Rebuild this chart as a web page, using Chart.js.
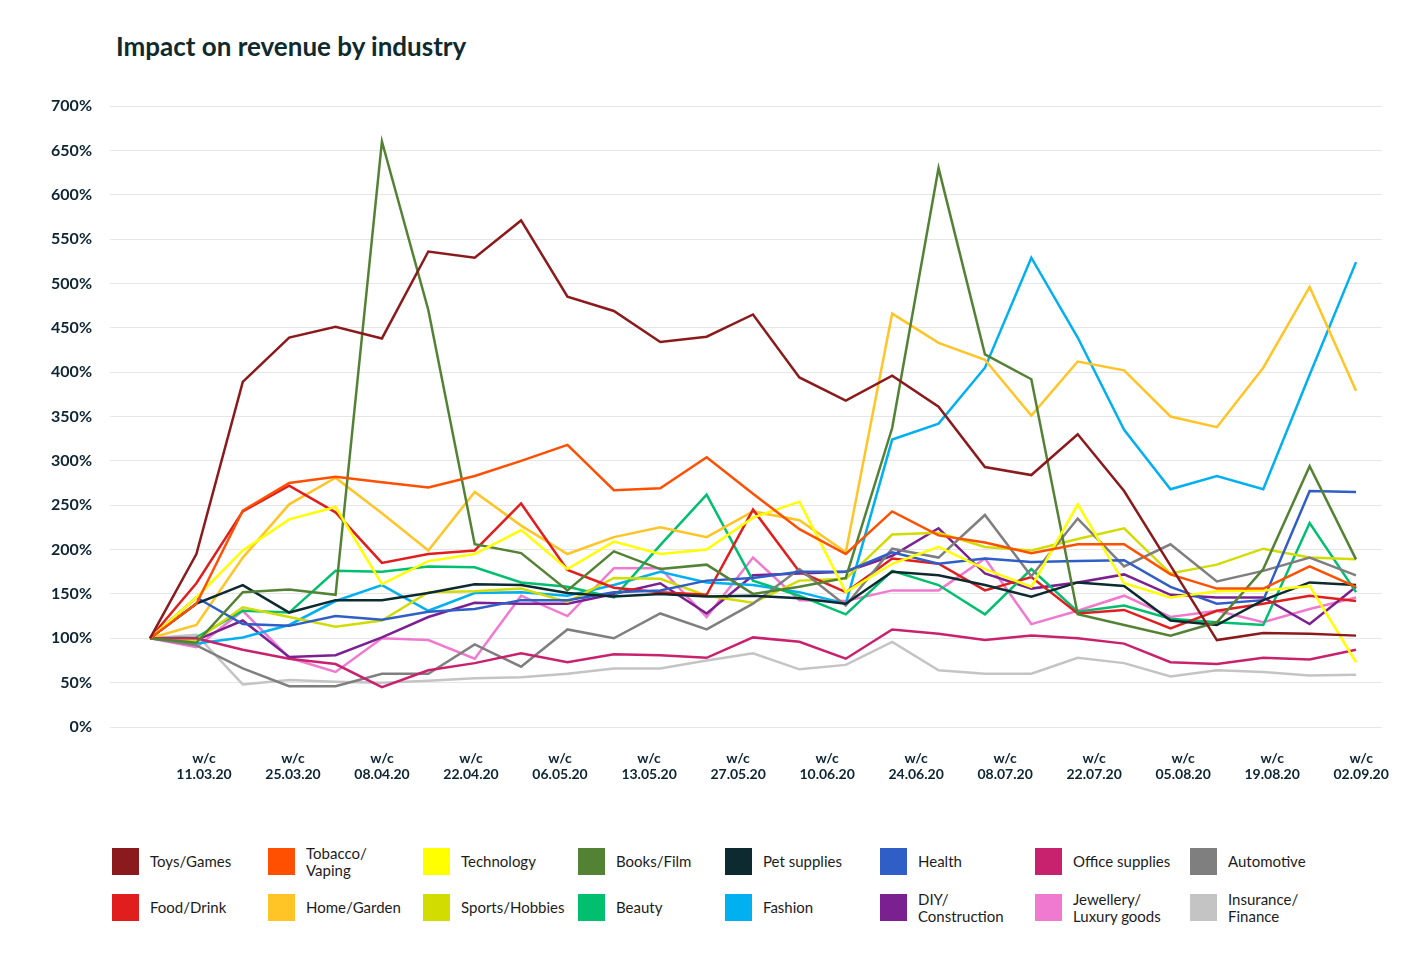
<!DOCTYPE html>
<html lang="en">
<head>
<meta charset="UTF-8">
<title>Impact on revenue by industry</title>
<script src="https://cdn.jsdelivr.net/npm/chart.js@4.4.0/dist/chart.umd.min.js"></script>
<style>
    body {
        margin: 0;
        background: #ffffff;
        width: 1420px;
        height: 956px;
        position: relative;
        overflow: hidden;
        font-family: Lato, "Open Sans", sans-serif;
    }
    h1 {
        position: absolute;
        left: 116px;
        top: 33px;
        margin: 0;
        font-size: 26px;
        line-height: 26px;
        font-weight: 700;
        color: #0f2a2e;
    }
    #caixa-grafico {
        position: absolute;
        left: 0;
        top: 0;
        width: 1420px;
        height: 800px;
    }
    #legenda {
        position: absolute;
        left: 112px;
        top: 848px;
        display: grid;
        grid-template-columns: 156px 155px 155px 147px 155px 155px 155px 200px;
        grid-auto-rows: 46px;
    }
    .item {
        display: flex;
        align-items: center;
        height: 27px;
    }
    .quadrado {
        width: 27px;
        height: 27px;
        margin-right: 11px;
        flex: none;
    }
    .texto {
        font-size: 15px;
        line-height: 17px;
        color: #1c1c1c;
        white-space: pre-line;
    }
</style>
</head>
<body>

<h1>Impact on revenue by industry</h1>

<div id="caixa-grafico">
    <canvas id="grafico-receita"></canvas>
</div>

<div id="legenda"></div>

<script>
// Semanas mostradas no eixo x (w/c = week commencing)
var semanas = ['11.03.20', '25.03.20', '08.04.20', '22.04.20', '06.05.20', '13.05.20', '27.05.20',
    '10.06.20', '24.06.20', '08.07.20', '22.07.20', '05.08.20', '19.08.20', '02.09.20'];

// Valores em % por semana (27 semanas)
var toysGames = [100, 195, 389, 439, 451, 438, 536, 529, 571, 485, 469, 434, 440, 465, 394, 368, 396, 361, 293, 284, 330, 266, 182, 98, 106, 105, 103];
var tobaccoVaping = [100, 139, 244, 275, 282, 276, 270, 283, 300, 318, 267, 269, 304, 263, 223, 195, 243, 216, 208, 196, 206, 206, 172, 156, 156, 181, 158];
var technology = [100, 146, 199, 234, 248, 161, 187, 195, 222, 178, 209, 195, 200, 236, 254, 152, 184, 203, 178, 158, 251, 162, 146, 153, 154, 159, 73];
var booksFilm = [100, 95, 152, 155, 149, 660, 470, 206, 196, 154, 198, 178, 183, 150, 158, 168, 337, 630, 420, 392, 127, 115, 103, 118, 178, 294, 189];
var petSupplies = [100, 139, 160, 129, 143, 143, 151, 161, 160, 151, 147, 150, 147, 148, 145, 139, 175, 171, 160, 147, 163, 159, 120, 115, 143, 163, 160];
var health = [100, 146, 116, 114, 125, 121, 130, 133, 143, 143, 152, 154, 165, 168, 175, 175, 197, 184, 190, 186, 187, 188, 158, 139, 143, 266, 265];
var officeSupplies = [100, 100, 87, 77, 71, 45, 64, 72, 83, 73, 82, 81, 78, 101, 96, 77, 110, 105, 98, 103, 100, 94, 73, 71, 78, 76, 87];
var automotive = [100, 92, 66, 46, 46, 60, 60, 93, 68, 110, 100, 128, 110, 139, 178, 137, 201, 191, 239, 170, 235, 181, 206, 164, 176, 191, 171];
var foodDrink = [100, 162, 243, 272, 242, 185, 195, 199, 252, 177, 157, 152, 149, 245, 175, 152, 190, 184, 154, 169, 128, 132, 111, 131, 139, 148, 142];
var homeGarden = [100, 115, 191, 251, 281, 241, 199, 265, 227, 195, 214, 225, 214, 243, 233, 197, 466, 433, 414, 351, 412, 402, 350, 338, 405, 496, 379];
var sportsHobbies = [100, 98, 135, 124, 113, 120, 152, 153, 156, 141, 168, 167, 148, 140, 165, 167, 217, 219, 203, 199, 212, 224, 173, 183, 201, 191, 189];
var beauty = [100, 101, 131, 129, 176, 175, 181, 180, 163, 158, 146, 205, 262, 165, 148, 127, 176, 160, 127, 178, 130, 137, 122, 118, 115, 230, 152];
var fashion = [100, 94, 101, 115, 142, 160, 131, 151, 152, 148, 160, 175, 163, 160, 152, 139, 324, 342, 405, 529, 439, 335, 268, 283, 268, 397, 524];
var diyConstruction = [100, 98, 120, 79, 81, 101, 124, 140, 139, 139, 150, 162, 128, 171, 173, 175, 193, 224, 173, 156, 163, 172, 149, 146, 146, 116, 158];
var jewelleryLuxury = [100, 90, 131, 78, 62, 100, 98, 77, 148, 125, 179, 179, 124, 191, 143, 142, 154, 154, 190, 116, 131, 148, 124, 131, 118, 133, 146];
var insuranceFinance = [100, 104, 48, 53, 51, 50, 52, 55, 56, 60, 66, 66, 75, 83, 65, 70, 96, 64, 60, 60, 78, 72, 57, 64, 62, 58, 59];

// Setores na ordem da legenda (linha 1, depois linha 2)
var setores = ['Toys/Games', 'Tobacco/\nVaping', 'Technology', 'Books/Film', 'Pet supplies', 'Health', 'Office supplies', 'Automotive',
    'Food/Drink', 'Home/Garden', 'Sports/Hobbies', 'Beauty', 'Fashion', 'DIY/\nConstruction', 'Jewellery/\nLuxury goods', 'Insurance/\nFinance'];
var series = [toysGames, tobaccoVaping, technology, booksFilm, petSupplies, health, officeSupplies, automotive,
    foodDrink, homeGarden, sportsHobbies, beauty, fashion, diyConstruction, jewelleryLuxury, insuranceFinance];
var cores = ['#8b1a1d', '#ff4f00', '#ffff00', '#548235', '#0c2a30', '#2e5ec6', '#c8216e', '#7f7f7f',
    '#e01e1e', '#ffc425', '#d2dc00', '#00bf6f', '#00b0f0', '#7b2090', '#f07ad0', '#c4c4c4'];

var graficoReceita = null;

// Monta a legenda em HTML (quadrado colorido + texto)
function criarLegenda() {
    var legenda = document.getElementById('legenda');
    setores.forEach(function (nome, i) {
        var item = document.createElement('div');
        item.className = 'item';
        item.innerHTML = '<span class="quadrado" style="background:' + cores[i] + '"></span>' +
            '<span class="texto">' + nome + '</span>';
        legenda.appendChild(item);
    });
}

function criarGraficoReceita() {
    var ctx = document.getElementById('grafico-receita').getContext('2d');

    var datasets = series.map(function (valores, i) {
        return {
            label: setores[i].replace('\n', ''),
            data: valores.map(function (v, semana) { return { x: semana, y: v }; }),
            borderColor: cores[i],
            backgroundColor: cores[i],
            borderWidth: 2.5,
            pointRadius: 0,
            tension: 0,
            fill: false
        };
    });

    graficoReceita = new Chart(ctx, {
        type: 'line',
        data: { datasets: datasets },
        options: {
            responsive: true,
            maintainAspectRatio: false,
            animation: false,
            layout: {
                padding: { top: 106, right: 38, left: 0, bottom: 0 }
            },
            plugins: {
                legend: { display: false },
                title: { display: false },
                tooltip: { enabled: false }
            },
            scales: {
                x: {
                    type: 'linear',
                    bounds: 'data',
                    min: -0.8624,
                    max: 26.56,
                    grid: { display: false },
                    border: { display: false },
                    afterBuildTicks: function (scale) {
                        // os rótulos ficam a cada ~2 semanas, um pouco deslocados dos pontos
                        scale.ticks = semanas.map(function (s, j) {
                            return { value: 1.164 + j * 1.919 };
                        });
                    },
                    afterFit: function (scale) {
                        scale.height = 73;
                    },
                    ticks: {
                        autoSkip: false,
                        maxRotation: 0,
                        padding: 15,
                        color: '#0d2433',
                        font: { family: 'Lato', size: 14, weight: 'bold', lineHeight: 1.15 },
                        callback: function (valor, indice) {
                            return ['w/c', semanas[indice]];
                        }
                    }
                },
                y: {
                    min: 0,
                    max: 700,
                    grid: { color: '#e6e6e6', lineWidth: 1, drawTicks: false },
                    border: { display: false },
                    afterFit: function (scale) {
                        scale.width = 110;
                    },
                    ticks: {
                        stepSize: 50,
                        padding: 18,
                        color: '#0d2433',
                        font: { family: 'Lato', size: 16, weight: 'bold' },
                        callback: function (valor) {
                            return valor + '%';
                        }
                    }
                }
            }
        }
    });
}

criarLegenda();
criarGraficoReceita();
</script>
</body>
</html>
